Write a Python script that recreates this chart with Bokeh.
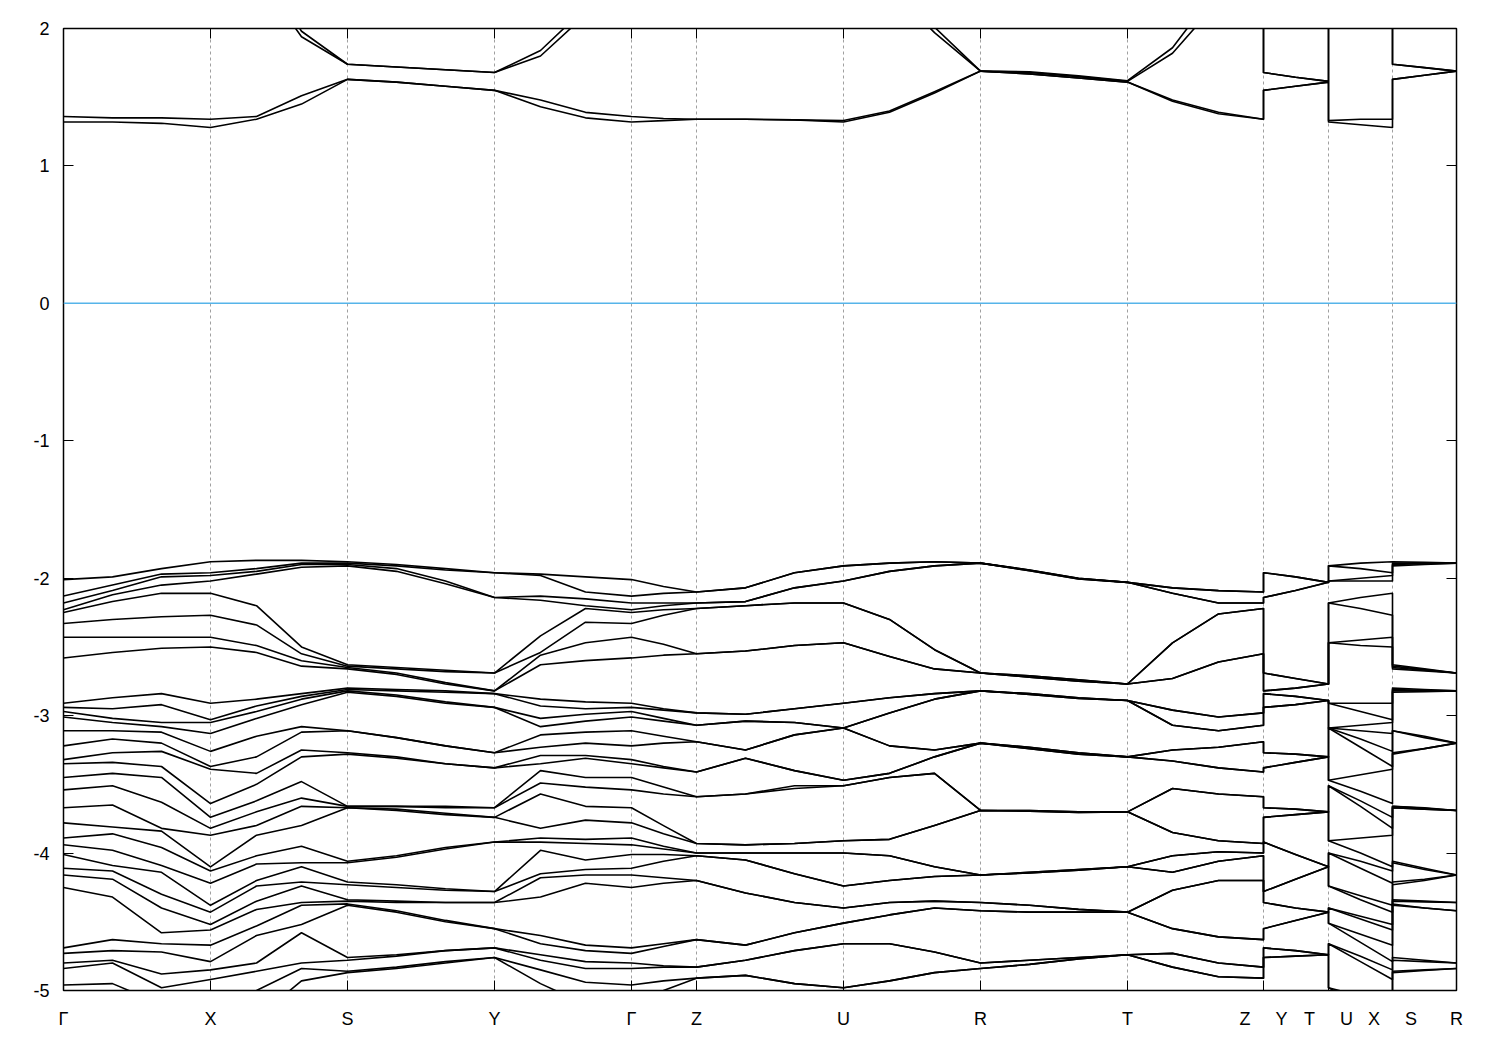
from bokeh.plotting import figure
from bokeh.models import FixedTicker, LinearAxis, Span, Range1d
from bokeh.embed import file_html
from bokeh.resources import INLINE

# ---- k-path (high-symmetry points) ----
K_TICKS = [0.0, 0.147, 0.284, 0.431, 0.568, 0.633, 0.780, 0.917, 1.064, 1.200, 1.265, 1.329, 1.393]
GAP = "\u00a0" * 5
K_LABELS = ["\u0393", "X", "S", "Y", "\u0393", "Z", "U", "R", "T",
            "Z" + GAP + "Y", "T" + GAP + "U", "X" + GAP + "S", "R"]

# sample positions along the path (breaks Z|Y, T|U, X|S repeated)
K = [0.000, 0.049, 0.098, 0.147, 0.193, 0.238, 0.284, 0.333, 0.382, 0.431,
     0.477, 0.522, 0.568, 0.600, 0.633, 0.682, 0.731, 0.780, 0.826, 0.871,
     0.917, 0.966, 1.015, 1.064, 1.109, 1.155, 1.200, 1.200, 1.232, 1.265,
     1.265, 1.297, 1.329, 1.329, 1.361, 1.393]

Y_TICKS = [-5, -4, -3, -2, -1, 0, 1, 2]

# ---- conduction bands (eV), one list per band ----
CB1 = [1.32, 1.32, 1.31, 1.28, 1.34, 1.45, 1.63, 1.61, 1.58, 1.55, 1.43, 1.35, 1.32, 1.33, 1.34, 1.34, 1.335, 1.32,
       1.39, 1.53, 1.69, 1.67, 1.64, 1.61, 1.47, 1.38, 1.34, 1.55, 1.58, 1.61, 1.32, 1.30, 1.28, 1.63, 1.66, 1.69]
CB2 = [1.36, 1.35, 1.35, 1.34, 1.36, 1.51, 1.63, 1.61, 1.58, 1.55, 1.48, 1.39, 1.36, 1.345, 1.34, 1.34, 1.335, 1.33,
       1.40, 1.54, 1.69, 1.67, 1.64, 1.61, 1.48, 1.39, 1.34, 1.55, 1.58, 1.61, 1.33, 1.34, 1.34, 1.63, 1.66, 1.69]
CB3 = [2.4, 2.5, 2.6, 2.7, 2.4, 1.94, 1.74, 1.72, 1.70, 1.68, 1.80, 2.1, 2.5, 2.5, 2.5, 2.6, 2.6, 2.5,
       2.3, 1.97, 1.69, 1.68, 1.65, 1.615, 1.82, 2.2, 2.5, 1.68, 1.645, 1.615, 2.5, 2.5, 2.7, 1.74, 1.715, 1.69]
CB4 = [2.5, 2.6, 2.7, 2.8, 2.5, 1.98, 1.74, 1.72, 1.70, 1.68, 1.84, 2.15, 2.6, 2.6, 2.6, 2.7, 2.7, 2.6,
       2.4, 2.01, 1.69, 1.685, 1.655, 1.62, 1.86, 2.3, 2.6, 1.68, 1.645, 1.615, 2.6, 2.6, 2.8, 1.74, 1.715, 1.69]

# ---- valence bands (eV), one list per k sample, sorted from the top ----
VB_G = [-2.01, -2.13, -2.18, -2.23, -2.25, -2.33, -2.43, -2.58, -2.91, -2.94, -2.97, -3.01, -3.11, -3.22, -3.32, -3.35,
        -3.45, -3.54, -3.67, -3.78, -3.89, -3.94, -4.01, -4.11, -4.16, -4.25, -4.69, -4.73, -4.80, -4.84, -4.96, -5.15]
VB_GX1 = [-1.99, -2.05, -2.09, -2.12, -2.17, -2.30, -2.43, -2.54, -2.87, -2.95, -3.02, -3.05, -3.11, -3.17, -3.27, -3.34,
          -3.42, -3.51, -3.65, -3.81, -3.86, -3.98, -4.09, -4.13, -4.19, -4.32, -4.63, -4.71, -4.78, -4.80, -4.95, -5.15]
VB_GX2 = [-1.93, -1.97, -1.99, -2.05, -2.11, -2.28, -2.43, -2.51, -2.84, -2.92, -3.05, -3.08, -3.12, -3.20, -3.26, -3.37,
          -3.45, -3.63, -3.82, -3.84, -3.96, -4.09, -4.14, -4.30, -4.40, -4.58, -4.66, -4.72, -4.88, -4.98, -5.10, -5.20]
VB_X = [-1.88, -1.96, -1.98, -2.02, -2.11, -2.27, -2.43, -2.50, -2.91, -3.03, -3.05, -3.13, -3.26, -3.37, -3.39, -3.64,
        -3.74, -3.82, -3.87, -4.10, -4.13, -4.22, -4.38, -4.43, -4.52, -4.56, -4.67, -4.79, -4.85, -4.92, -5.10, -5.25]
VB_XS1 = [-1.87, -1.93, -1.95, -1.97, -2.20, -2.34, -2.49, -2.54, -2.88, -2.93, -2.97, -3.02, -3.15, -3.30, -3.42, -3.50,
          -3.62, -3.70, -3.80, -3.87, -4.02, -4.08, -4.20, -4.24, -4.35, -4.41, -4.53, -4.60, -4.80, -4.86, -5.00, -5.20]
VB_XS2 = [-1.87, -1.89, -1.90, -1.92, -2.50, -2.55, -2.60, -2.64, -2.84, -2.86, -2.88, -2.92, -3.08, -3.12, -3.25, -3.30,
          -3.48, -3.60, -3.66, -3.80, -3.95, -4.07, -4.10, -4.21, -4.24, -4.36, -4.38, -4.52, -4.58, -4.80, -4.84, -4.93]
VB_S = [-1.88, -1.89, -1.90, -1.91, -2.63, -2.64, -2.65, -2.66, -2.80, -2.81, -2.82, -2.83, -3.11, -3.11, -3.27, -3.28,
        -3.66, -3.66, -3.67, -3.67, -4.06, -4.07, -4.21, -4.23, -4.34, -4.35, -4.37, -4.38, -4.76, -4.78, -4.86, -4.87]
VB_SY1 = [-1.90, -1.91, -1.93, -1.95, -2.65, -2.66, -2.69, -2.70, -2.81, -2.82, -2.85, -2.86, -3.16, -3.16, -3.30, -3.31,
          -3.66, -3.66, -3.68, -3.69, -4.02, -4.03, -4.23, -4.25, -4.35, -4.36, -4.42, -4.43, -4.74, -4.75, -4.83, -4.84]
VB_SY2 = [-1.93, -1.94, -2.02, -2.04, -2.67, -2.68, -2.76, -2.77, -2.82, -2.83, -2.90, -2.91, -3.22, -3.22, -3.35, -3.35,
          -3.66, -3.67, -3.71, -3.72, -3.96, -3.97, -4.26, -4.27, -4.36, -4.36, -4.49, -4.50, -4.71, -4.71, -4.79, -4.80]
VB_Y = [-1.96, -1.96, -2.14, -2.14, -2.69, -2.69, -2.82, -2.82, -2.84, -2.84, -2.94, -2.94, -3.27, -3.27, -3.38, -3.38,
        -3.67, -3.67, -3.74, -3.74, -3.92, -3.92, -4.28, -4.28, -4.36, -4.36, -4.55, -4.55, -4.69, -4.69, -4.76, -4.76]
VB_YG1 = [-1.97, -1.98, -2.13, -2.16, -2.42, -2.54, -2.56, -2.63, -2.88, -2.93, -3.02, -3.08, -3.14, -3.23, -3.29, -3.35,
          -3.40, -3.49, -3.57, -3.82, -3.89, -3.92, -3.98, -4.15, -4.18, -4.32, -4.60, -4.66, -4.74, -4.78, -4.85, -4.95]
VB_YG2 = [-1.99, -2.10, -2.15, -2.20, -2.22, -2.32, -2.47, -2.60, -2.90, -2.95, -2.99, -3.04, -3.12, -3.20, -3.29, -3.31,
          -3.45, -3.52, -3.66, -3.76, -3.90, -3.93, -4.05, -4.12, -4.16, -4.22, -4.67, -4.71, -4.79, -4.84, -4.94, -5.10]
VB_GZ = [-2.06, -2.11, -2.18, -2.20, -2.23, -2.27, -2.48, -2.56, -2.95, -2.96, -3.02, -3.04, -3.15, -3.20, -3.37, -3.38,
         -3.52, -3.57, -3.80, -3.86, -3.95, -3.97, -4.01, -4.06, -4.18, -4.22, -4.66, -4.68, -4.82, -4.83, -4.93, -5.00]
VB_Z = [-2.10, -2.10, -2.18, -2.18, -2.22, -2.22, -2.55, -2.55, -2.98, -2.98, -3.07, -3.07, -3.19, -3.19, -3.41, -3.41,
        -3.59, -3.59, -3.93, -3.93, -4.00, -4.00, -4.02, -4.02, -4.20, -4.20, -4.63, -4.63, -4.83, -4.83, -4.91, -4.91]
VB_ZU1 = [-2.07, -2.07, -2.17, -2.17, -2.20, -2.20, -2.53, -2.53, -2.99, -2.99, -3.04, -3.04, -3.25, -3.25, -3.31, -3.31,
          -3.57, -3.57, -3.94, -3.94, -4.00, -4.00, -4.05, -4.05, -4.29, -4.29, -4.67, -4.67, -4.78, -4.78, -4.89, -4.89]
VB_ZU2 = [-1.96, -1.96, -2.07, -2.07, -2.18, -2.18, -2.49, -2.49, -2.95, -2.95, -3.05, -3.05, -3.14, -3.14, -3.40, -3.40,
          -3.51, -3.53, -3.93, -3.93, -4.00, -4.00, -4.15, -4.15, -4.36, -4.36, -4.58, -4.58, -4.71, -4.71, -4.95, -4.95]
VB_U = [-1.91, -1.91, -2.02, -2.02, -2.18, -2.18, -2.47, -2.47, -2.91, -2.91, -3.09, -3.09, -3.09, -3.09, -3.47, -3.47,
        -3.51, -3.51, -3.91, -3.91, -4.00, -4.00, -4.24, -4.24, -4.40, -4.40, -4.51, -4.51, -4.66, -4.66, -4.98, -4.98]
VB_UR1 = [-1.89, -1.89, -1.95, -1.95, -2.30, -2.30, -2.57, -2.57, -2.87, -2.87, -2.98, -2.98, -3.22, -3.22, -3.42, -3.42,
          -3.45, -3.45, -3.90, -3.90, -4.02, -4.02, -4.20, -4.20, -4.36, -4.36, -4.45, -4.45, -4.66, -4.66, -4.93, -4.93]
VB_UR2 = [-1.88, -1.88, -1.91, -1.91, -2.52, -2.52, -2.66, -2.66, -2.84, -2.84, -2.88, -2.88, -3.25, -3.25, -3.30, -3.30,
          -3.42, -3.42, -3.80, -3.80, -4.10, -4.10, -4.17, -4.17, -4.35, -4.35, -4.40, -4.40, -4.72, -4.72, -4.87, -4.87]
VB_R = [-1.89, -1.89, -1.89, -1.89, -2.69, -2.69, -2.69, -2.69, -2.82, -2.82, -2.82, -2.82, -3.20, -3.20, -3.20, -3.20,
        -3.69, -3.69, -3.69, -3.69, -4.16, -4.16, -4.16, -4.16, -4.36, -4.36, -4.42, -4.42, -4.80, -4.80, -4.84, -4.84]
VB_RT1 = [-1.94, -1.94, -1.945, -1.945, -2.71, -2.71, -2.72, -2.72, -2.84, -2.84, -2.845, -2.845, -3.23, -3.23, -3.24, -3.24,
          -3.69, -3.69, -3.695, -3.695, -4.14, -4.14, -4.145, -4.145, -4.38, -4.38, -4.43, -4.43, -4.78, -4.78, -4.81, -4.81]
VB_RT2 = [-2.00, -2.00, -2.005, -2.005, -2.74, -2.74, -2.75, -2.75, -2.87, -2.87, -2.875, -2.875, -3.27, -3.27, -3.28, -3.28,
          -3.70, -3.70, -3.705, -3.705, -4.12, -4.12, -4.125, -4.125, -4.41, -4.41, -4.43, -4.43, -4.76, -4.76, -4.77, -4.77]
VB_T = [-2.03, -2.03, -2.03, -2.03, -2.77, -2.77, -2.77, -2.77, -2.89, -2.89, -2.89, -2.89, -3.30, -3.30, -3.30, -3.30,
        -3.70, -3.70, -3.70, -3.70, -4.10, -4.10, -4.10, -4.10, -4.43, -4.43, -4.43, -4.43, -4.74, -4.74, -4.74, -4.74]
VB_TZ1 = [-2.07, -2.07, -2.11, -2.11, -2.47, -2.47, -2.73, -2.73, -2.96, -2.96, -3.07, -3.07, -3.25, -3.25, -3.33, -3.33,
          -3.53, -3.53, -3.85, -3.85, -4.02, -4.02, -4.14, -4.14, -4.27, -4.27, -4.55, -4.55, -4.73, -4.73, -4.83, -4.83]
VB_TZ2 = [-2.09, -2.09, -2.18, -2.18, -2.26, -2.26, -2.61, -2.61, -3.01, -3.01, -3.11, -3.11, -3.23, -3.23, -3.38, -3.38,
          -3.57, -3.57, -3.91, -3.91, -3.99, -3.99, -4.06, -4.06, -4.20, -4.20, -4.61, -4.61, -4.80, -4.80, -4.90, -4.90]
VB_YT = [-1.99, -1.99, -2.09, -2.09, -2.73, -2.73, -2.80, -2.80, -2.86, -2.86, -2.92, -2.92, -3.28, -3.28, -3.34, -3.34,
         -3.68, -3.68, -3.72, -3.72, -4.01, -4.01, -4.19, -4.19, -4.40, -4.40, -4.49, -4.49, -4.71, -4.71, -4.75, -4.75]
VB_UX = [-1.89, -1.93, -2.00, -2.02, -2.14, -2.22, -2.45, -2.49, -2.91, -2.97, -3.07, -3.11, -3.17, -3.23, -3.43, -3.55,
         -3.62, -3.66, -3.89, -4.00, -4.06, -4.11, -4.31, -4.34, -4.46, -4.48, -4.59, -4.65, -4.75, -4.79, -5.04, -5.10]
VB_SR = [-1.885, -1.89, -1.895, -1.90, -2.66, -2.665, -2.67, -2.675, -2.81, -2.815, -2.82, -2.825, -3.15, -3.16, -3.24, -3.24,
         -3.67, -3.675, -3.68, -3.68, -4.11, -4.12, -4.19, -4.20, -4.35, -4.355, -4.40, -4.40, -4.78, -4.79, -4.85, -4.855]

VB_COLUMNS = [VB_G, VB_GX1, VB_GX2, VB_X, VB_XS1, VB_XS2, VB_S, VB_SY1, VB_SY2, VB_Y,
              VB_YG1, VB_YG2, VB_G, VB_GZ, VB_Z, VB_ZU1, VB_ZU2, VB_U, VB_UR1, VB_UR2,
              VB_R, VB_RT1, VB_RT2, VB_T, VB_TZ1, VB_TZ2, VB_Z, VB_Y, VB_YT, VB_T,
              VB_U, VB_UX, VB_X, VB_S, VB_SR, VB_R]

valence = [[col[i] for col in VB_COLUMNS] for i in range(len(VB_G))]
conduction = [CB1, CB2, CB3, CB4]
bands = conduction + valence

FONT = "Liberation Sans"

p = figure(frame_width=1393, frame_height=962,
           min_border_left=63, min_border_right=30, min_border_top=28, min_border_bottom=48,
           x_range=Range1d(K_TICKS[0], K_TICKS[-1]), y_range=Range1d(-5, 2),
           output_backend="svg", toolbar_location=None, background_fill_color="white",
           border_fill_color="white")

p.outline_line_color = "black"
p.outline_line_width = 1.5

# grid: vertical dashed lines at high-symmetry points
p.ygrid.grid_line_color = None
p.xgrid.ticker = FixedTicker(ticks=K_TICKS[1:-1])
p.xgrid.grid_line_color = "#a0a0a0"
p.xgrid.grid_line_dash = "3 3"
p.xgrid.grid_line_width = 1

# Fermi level
p.add_layout(Span(location=0, dimension="width", line_color="#56B4E9", line_width=1.5))

p.multi_line(xs=[K] * len(bands), ys=bands, line_color="black", line_width=1.6,
             line_join="round")

# bottom axis
xa = p.xaxis[0]
xa.ticker = FixedTicker(ticks=K_TICKS)
xa.major_label_overrides = {k: lab for k, lab in zip(K_TICKS, K_LABELS)}
# left axis
ya = p.yaxis[0]
ya.ticker = FixedTicker(ticks=Y_TICKS)
ya.major_label_overrides = {v: str(v) for v in Y_TICKS}

for ax in (xa, ya):
    ax.major_tick_in = 10
    ax.major_tick_out = 0
    ax.minor_tick_line_color = None
    ax.axis_line_color = "black"
    ax.major_tick_line_color = "black"
    ax.major_label_text_font = FONT
    ax.major_label_text_font_size = "18px"
    ax.major_label_text_color = "black"
xa.major_label_standoff = 18
ya.major_label_standoff = 14

# mirrored axes (ticks only, empty labels)
top = LinearAxis(ticker=FixedTicker(ticks=K_TICKS), major_tick_in=10, major_tick_out=0,
                 minor_tick_line_color=None, major_label_standoff=0, axis_line_color="black",
                 major_label_overrides={k: "" for k in K_TICKS})
right = LinearAxis(ticker=FixedTicker(ticks=Y_TICKS), major_tick_in=10, major_tick_out=0,
                   minor_tick_line_color=None, major_label_standoff=0, axis_line_color="black",
                   major_label_overrides={v: "" for v in Y_TICKS})
p.add_layout(top, "above")
p.add_layout(right, "right")

open("out.html", "w").write(file_html(p, INLINE))
